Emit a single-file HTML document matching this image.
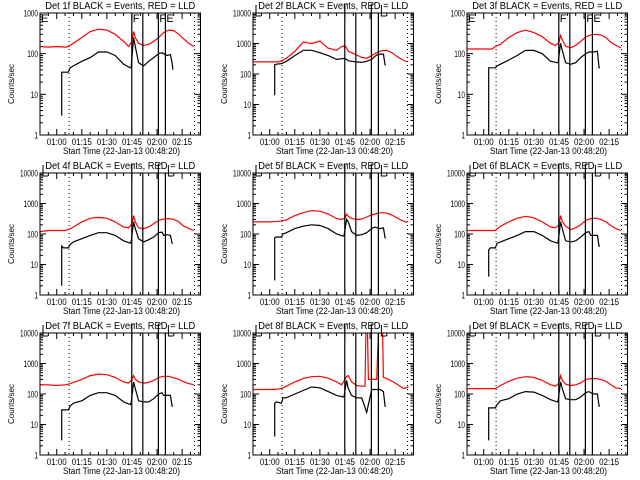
<!DOCTYPE html>
<html><head><meta charset="utf-8"><style>
html,body{margin:0;padding:0;background:#fff;}
svg{display:block;font-family:"Liberation Sans",sans-serif;}
</style></head><body>
<svg id="chart" width="640" height="480" viewBox="0 0 640 480" xmlns="http://www.w3.org/2000/svg">
<rect x="0" y="0" width="640" height="480" fill="#fff"/>
</svg>
<script>
const detNames = ["1f","2f","3f","4f","5f","6f","7f","8f","9f"];
const yMaxes = [1000,10000,1000,10000,10000,10000,10000,10000,10000];
const xTickMinutes = [60,75,90,105,120,135];
const xTickLabels = ["01:00","01:15","01:30","01:45","02:00","02:15"];
const dottedTimes = [67.4,142.4];
const solidTimes = [104.9,111.5,120.8,125];
const redT = [50,55,60,65,67,70,75,80,85,90,95,100,103,105,106,107,109,112,115,118,121,124,127,130,133,136,139,142];
const blackT = [63,63,64,67,68,70,75,80,85,90,95,100,104,104.5,106,107,109,112,115,118,121,123,124,126,128,129,129.5];
const redT8 = [50,55,60,65,67,70,75,80,85,90,95,100,103,105,106,107,109,112,115,117,117.5,118.5,119,121,124,125,125.5,127.5,128,130,134,138,140,143];
const red1 = [150,145,150,145,150,180,250,350,400,380,300,200,150,200,350,250,180,160,170,200,250,330,380,370,300,230,180,150];
const black1 = [3,35,35,35,45,50,65,80,110,110,90,55,45,45,250,150,60,50,65,80,100,105,100,90,95,60,40];
const red2 = [250,250,250,250,270,330,550,1100,1000,1200,700,600,800,850,700,550,500,420,350,330,400,500,580,600,500,380,300,250];
const black2 = [20,200,210,220,230,260,400,600,600,500,400,300,320,330,300,270,260,250,240,260,300,380,420,450,450,200,200];
const red3 = [130,130,130,130,150,170,250,330,380,330,260,180,160,190,280,220,150,140,160,200,260,290,300,290,250,190,160,140];
const black3 = [1,45,45,45,50,55,70,90,120,120,100,65,60,60,180,120,60,55,60,80,100,110,110,110,115,45,45];
const red4 = [120,130,130,130,140,170,250,330,350,330,250,170,160,220,400,250,160,150,170,220,280,310,320,300,250,180,150,130];
const black4 = [2,40,35,35,45,55,70,90,110,110,90,60,50,55,250,150,70,55,65,80,110,115,90,95,90,50,50];
const red5 = [250,250,250,260,270,290,400,500,580,560,450,320,300,330,450,380,320,300,310,360,420,470,500,480,420,340,280,240];
const black5 = [3,75,80,80,100,110,150,180,200,190,150,100,85,90,300,250,120,90,95,110,150,170,160,150,160,75,75];
const red6 = [130,130,130,130,130,180,250,330,380,340,250,170,160,200,400,260,180,140,160,200,280,320,330,300,250,190,150,130];
const black6 = [4,30,35,35,50,55,70,90,120,120,90,60,50,55,250,150,60,55,60,80,110,120,90,90,90,40,40];
const red7 = [200,200,190,200,210,240,300,400,450,430,350,250,230,300,400,300,250,230,240,280,350,380,380,340,300,250,220,200];
const black7 = [3,30,30,30,40,50,60,90,110,110,90,55,45,50,250,150,60,55,55,70,100,110,90,90,90,40,40];
const red8 = [140,140,140,145,150,180,250,320,370,380,330,250,200,300,380,400,250,190,180,180,10000,10000,300,300,300,10000,10000,10000,350,320,250,180,150,170];
const black8 = [4,50,55,50,75,75,100,130,170,160,120,90,80,85,280,150,90,75,75,25,140,140,140,140,120,40,40];
const red9 = [150,150,150,150,150,190,260,330,370,350,280,200,180,230,400,280,210,190,200,230,300,320,320,300,260,200,160,150];
const black9 = [3,35,35,35,45,60,70,100,120,115,90,65,55,60,250,150,70,65,65,80,110,120,110,100,100,40,40];

const redSeries = [red1,red2,red3,red4,red5,red6,red7,red8,red9];
const blackSeries = [black1,black2,black3,black4,black5,black6,black7,black8,black9];
const redTimes = [redT,redT,redT,redT,redT,redT,redT,redT8,redT];

const NS = "http://www.w3.org/2000/svg";
const svg = document.getElementById("chart");
function mk(tag, attrs, parent){
  const e = document.createElementNS(NS, tag);
  for (const k in attrs) e.setAttribute(k, attrs[k]);
  parent.appendChild(e);
  return e;
}
const T0 = 50, TSPAN = 96, BW = 160.5, BH = 122;

for (let i = 0; i < 9; i++) {
  const col = i % 3, row = Math.floor(i / 3);
  const ox = Math.round(col * 213.33), oy = row * 160;
  const L = ox + 40, T = oy + 13, R = L + BW, B = T + BH;
  const ymax = yMaxes[i];
  const dec = Math.log10(ymax);
  const xs = t => L + (t - T0) / TSPAN * BW;
  const ys = v => B - Math.log10(Math.max(v, 1)) / dec * BH;

  const g = mk("g", {}, svg);
  
  

  const clip = mk("clipPath", {id: "clip" + i}, g);
  mk("rect", {x: L, y: T, width: BW, height: BH}, clip);

  const title = mk("text", {x: L + BW / 2 - 75, y: oy + 9, "font-size": 10, fill: "#000", textLength: 150, lengthAdjust: "spacingAndGlyphs"}, g);
  title.textContent = "Det " + detNames[i] + " BLACK = Events, RED = LLD";
  
  

  // y ticks
  for (let d = 0; d <= dec; d++) {
    const v = Math.pow(10, d), y = ys(v);
    const s = String(v);
    const w = s.length * 3.6;
    const lab = mk("text", {x: L - 2 - w, y: y + 3.5, "font-size": 9, fill: "#000", textLength: w, lengthAdjust: "spacingAndGlyphs"}, g);
    lab.textContent = s;
    
    
    mk("line", {x1: L, x2: L + 6, y1: y, y2: y, stroke: "#000"}, g);
    mk("line", {x1: R, x2: R - 6, y1: y, y2: y, stroke: "#000"}, g);
    if (d < dec) for (let m = 2; m <= 9; m++) {
      const ym = ys(v * m);
      mk("line", {x1: L, x2: L + 3, y1: ym, y2: ym, stroke: "#000"}, g);
      mk("line", {x1: R, x2: R - 3, y1: ym, y2: ym, stroke: "#000"}, g);
    }
  }
  const yt = mk("text", {x: -20, y: 0, "font-size": 8, fill: "#000", textLength: 40, lengthAdjust: "spacingAndGlyphs", transform: "translate(" + (ox + 14) + "," + (T + BH / 2 + 10) + ") rotate(-90)"}, g);
  yt.textContent = "Counts/sec";
  
  

  // x ticks
  xTickMinutes.forEach((m, k) => {
    const x = xs(m);
    mk("line", {x1: x, x2: x, y1: B, y2: B - 6, stroke: "#000"}, g);
    mk("line", {x1: x, x2: x, y1: T, y2: T + 6, stroke: "#000"}, g);
    const lab = mk("text", {x: x - 10, y: B + 10, "font-size": 9, fill: "#000", textLength: 20, lengthAdjust: "spacingAndGlyphs"}, g);
    lab.textContent = xTickLabels[k];
    
    
  });
  for (let m = 55; m < 146; m += 5) {
    if (m % 15 === 0) continue;
    const x = xs(m);
    mk("line", {x1: x, x2: x, y1: B, y2: B - 3, stroke: "#000"}, g);
    mk("line", {x1: x, x2: x, y1: T, y2: T + 3, stroke: "#000"}, g);
  }
  const xt = mk("text", {x: L + 23, y: B + 19, "font-size": 9.5, fill: "#000", textLength: 117, lengthAdjust: "spacingAndGlyphs"}, g);
  xt.textContent = "Start Time (22-Jan-13 00:48:20)";
  
  

  // dotted lines
  dottedTimes.forEach(t => {
    const dl = mk("line", {x1: xs(t), x2: xs(t), y1: T, y2: B, stroke: "#000", "stroke-dasharray": "1,3"}, g);
    
    
  });

  // series
  const rp = redTimes[i].map((t, k) => xs(t).toFixed(1) + "," + ys(redSeries[i][k]).toFixed(1)).join(" ");
  const red = mk("polyline", {points: rp, fill: "none", stroke: "#ff0000", "stroke-width": 1.2, "clip-path": "url(#clip" + i + ")"}, g);
  
  
  const bp = blackT.map((t, k) => xs(t).toFixed(1) + "," + ys(blackSeries[i][k]).toFixed(1)).join(" ");
  const blk = mk("polyline", {points: bp, fill: "none", stroke: "#000", "stroke-width": 1.2, "clip-path": "url(#clip" + i + ")"}, g);
  
  

  // solid lines
  solidTimes.forEach((t, k) => {
    const top = (dec > 3 && (k === 0 || k === 2)) ? oy + 4 : T;
    const sl = mk("line", {x1: xs(t), x2: xs(t), y1: top, y2: B, stroke: "#000", "stroke-width": 1.2}, g);
    
    
  });

  // top markers
  if (dec === 3) {
    [[L + 1, "E"], [xs(solidTimes[0]) + 1, "F"], [xs(solidTimes[2]) + 1, "F"], [xs(solidTimes[3]) + 1, "E"]].forEach(p => {
      const tx = mk("text", {x: p[0], y: T + 9, "font-size": 11, fill: "#000"}, g);
      tx.textContent = p[1];
      
      
    });
  } else {
    [L + 3, xs(solidTimes[3]) + 3].forEach(x => {
      mk("polyline", {points: x + "," + (oy + 5) + " " + x + "," + (T + 3) + " " + (x + 5) + "," + (T + 3), fill: "none", stroke: "#000"}, g);
    });
    [xs(solidTimes[0]), xs(solidTimes[2])].forEach(x => {
      mk("line", {x1: x, x2: x + 3, y1: oy + 4, y2: oy + 4, stroke: "#000"}, g);
    });
  }

  const box = mk("rect", {x: L, y: T, width: BW, height: BH, fill: "none", stroke: "#000", "stroke-width": 1}, g);
  
  
}
</script>
</body></html>
